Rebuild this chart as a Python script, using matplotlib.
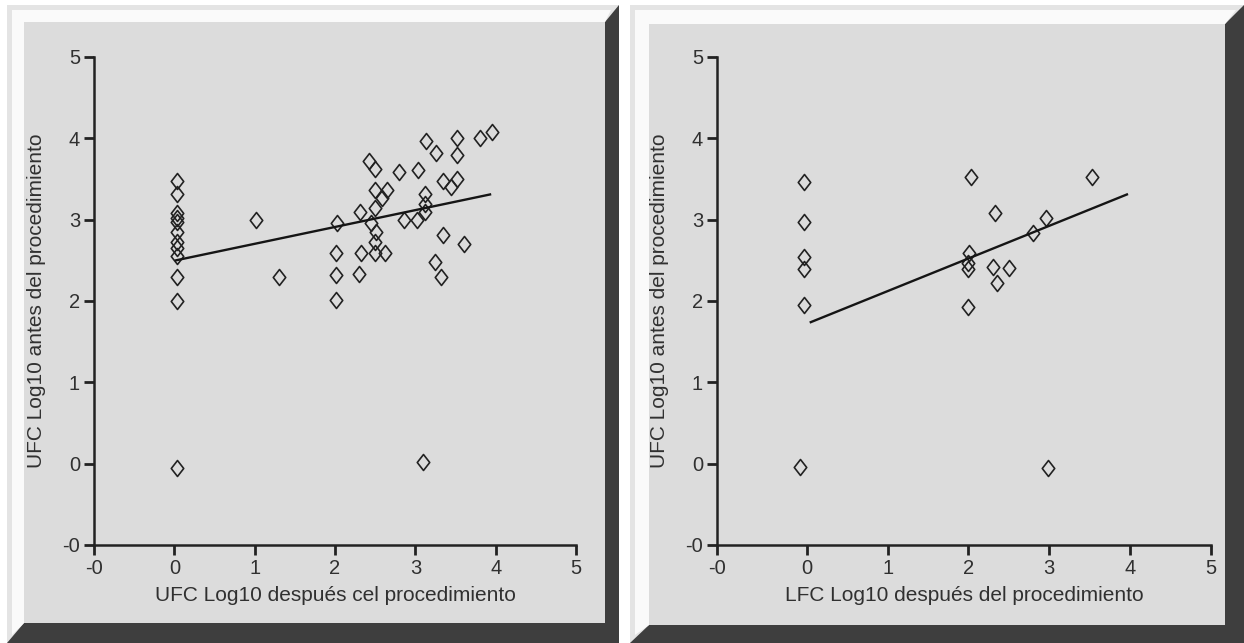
import matplotlib.pyplot as plt
from matplotlib.path import Path
from matplotlib.patches import Polygon, Rectangle

plt.rcParams['font.family'] = ['Liberation Sans', 'DejaVu Sans']

# Left panel: log10 CFU after (x) vs before (y)
left_after = [0.03, 0.03, 0.03, 0.03, 0.03, 0.03, 0.03, 0.03, 0.03, 0.03, 0.03, 0.03,
              1.02, 1.30,
              2.02, 2.01, 2.01, 2.01, 2.31, 2.32, 2.30,
              2.42, 2.50, 2.50, 2.65, 2.58, 2.50, 2.45, 2.51, 2.50, 2.50, 2.62,
              2.80, 3.03, 3.12, 3.12, 3.12, 2.86, 3.02,
              3.13, 3.26, 3.52, 3.52, 3.81, 3.95,
              3.34, 3.45, 3.52, 3.34, 3.60, 3.25, 3.32,
              3.10]
left_before = [3.48, 3.32, 3.08, 3.02, 2.97, 2.85, 2.72, 2.65, 2.55, 2.30, 2.00, -0.05,
               3.00, 2.30,
               2.96, 2.59, 2.32, 2.01, 3.10, 2.59, 2.33,
               3.72, 3.62, 3.37, 3.37, 3.27, 3.14, 2.96, 2.85, 2.73, 2.59, 2.59,
               3.59, 3.61, 3.32, 3.19, 3.10, 3.00, 3.00,
               3.97, 3.82, 4.00, 3.79, 4.00, 4.08,
               3.47, 3.40, 3.50, 2.81, 2.70, 2.48, 2.30,
               0.02]
left_fit_x = [0.02, 3.93]
left_fit_y = [2.50, 3.31]

# Right panel
right_after = [-0.03, -0.03, -0.03, -0.03, -0.03, -0.085,
               2.03, 2.33, 2.01, 2.00, 2.00, 2.30, 2.50, 2.35, 2.00,
               2.80, 2.96, 3.53, 2.99]
right_before = [3.46, 2.97, 2.54, 2.39, 1.95, -0.04,
                3.53, 3.08, 2.59, 2.47, 2.39, 2.42, 2.41, 2.22, 1.93,
                2.83, 3.02, 3.52, -0.05]
right_fit_x = [0.05, 3.96]
right_fit_y = [1.74, 3.31]

tick_vals = [-1, 0, 1, 2, 3, 4, 5]
tick_labels = ['-0', '0', '1', '2', '3', '4', '5']
ylabel_txt = 'UFC Log10 antes del procedimiento'
left_xlabel = 'UFC Log10 después cel procedimiento'
right_xlabel = 'LFC Log10 después del procedimiento'

W, H = 1244, 643
fig = plt.figure(figsize=(W / 100, H / 100), dpi=100, facecolor='white')

# bevelled grey frames drawn in pixel coordinates
bg = fig.add_axes([0, 0, 1, 1])
bg.set_xlim(0, W)
bg.set_ylim(H, 0)
bg.axis('off')


def frame(x0, y0, x1, y1, tl, r, b):
    bg.add_patch(Rectangle((x0, y0), x1 - x0, y1 - y0, color='#3e3e3e', lw=0))
    bg.add_patch(Polygon([(x0, y0), (x1, y0), (x1 - r, y0 + tl), (x0 + tl, y0 + tl),
                          (x0 + tl, y1 - b), (x0, y1)], closed=True, color='#e4e4e4', lw=0))
    bg.add_patch(Polygon([(x0 + 5, y0 + 5), (x1 - 8, y0 + 5), (x1 - r, y0 + tl),
                          (x0 + tl, y0 + tl), (x0 + tl, y1 - b), (x0 + 5, y1 - 8)],
                         closed=True, color='#fafafa', lw=0))
    bg.add_patch(Rectangle((x0 + tl, y0 + tl), x1 - x0 - tl - r, y1 - y0 - tl - b,
                           color='#dcdcdc', lw=0))


frame(7, 5, 619, 643, 17, 14, 20)
frame(630, 5, 1244, 643, 19, 19, 18)

diamond = Path([(0, 1), (0.78, 0), (0, -1), (-0.78, 0), (0, 1)],
               [Path.MOVETO, Path.LINETO, Path.LINETO, Path.LINETO, Path.CLOSEPOLY])

txt = '#303030'


def panel(rect, xs, ys, fx, fy, xlabel, xmin):
    ax = fig.add_axes(rect)
    ax.patch.set_alpha(0)
    ax.plot(xs, ys, linestyle='none', marker=diamond, ms=11.5, mfc='none',
            mec='#222222', mew=1.2, clip_on=False)
    ax.plot(fx, fy, color='#151515', lw=1.7)
    ax.set_xlim(xmin, 5)
    ax.set_ylim(-1, 5)
    for s in ['top', 'right']:
        ax.spines[s].set_visible(False)
    for s in ['left', 'bottom']:
        ax.spines[s].set_linewidth(1.8)
        ax.spines[s].set_color('#222222')
    ax.set_xticks([xmin] + tick_vals[1:])
    ax.set_xticklabels(tick_labels)
    ax.set_yticks(tick_vals)
    ax.set_yticklabels(tick_labels)
    ax.tick_params(direction='out', length=7, width=2, color='#222222',
                   labelsize=14.5, labelcolor=txt, pad=3)
    ax.set_xlabel(xlabel, fontsize=15, color=txt, labelpad=6)
    ax.set_ylabel(ylabel_txt, fontsize=15, color=txt, labelpad=12)
    return ax


panel([94 / W, 98 / H, 482 / W, 488 / H], left_after, left_before,
      left_fit_x, left_fit_y, left_xlabel, -1)
panel([717 / W, 98 / H, 494 / W, 488 / H], right_after, right_before,
      right_fit_x, right_fit_y, right_xlabel, -1.11)

fig.savefig('out.png', dpi=100, facecolor='white')
